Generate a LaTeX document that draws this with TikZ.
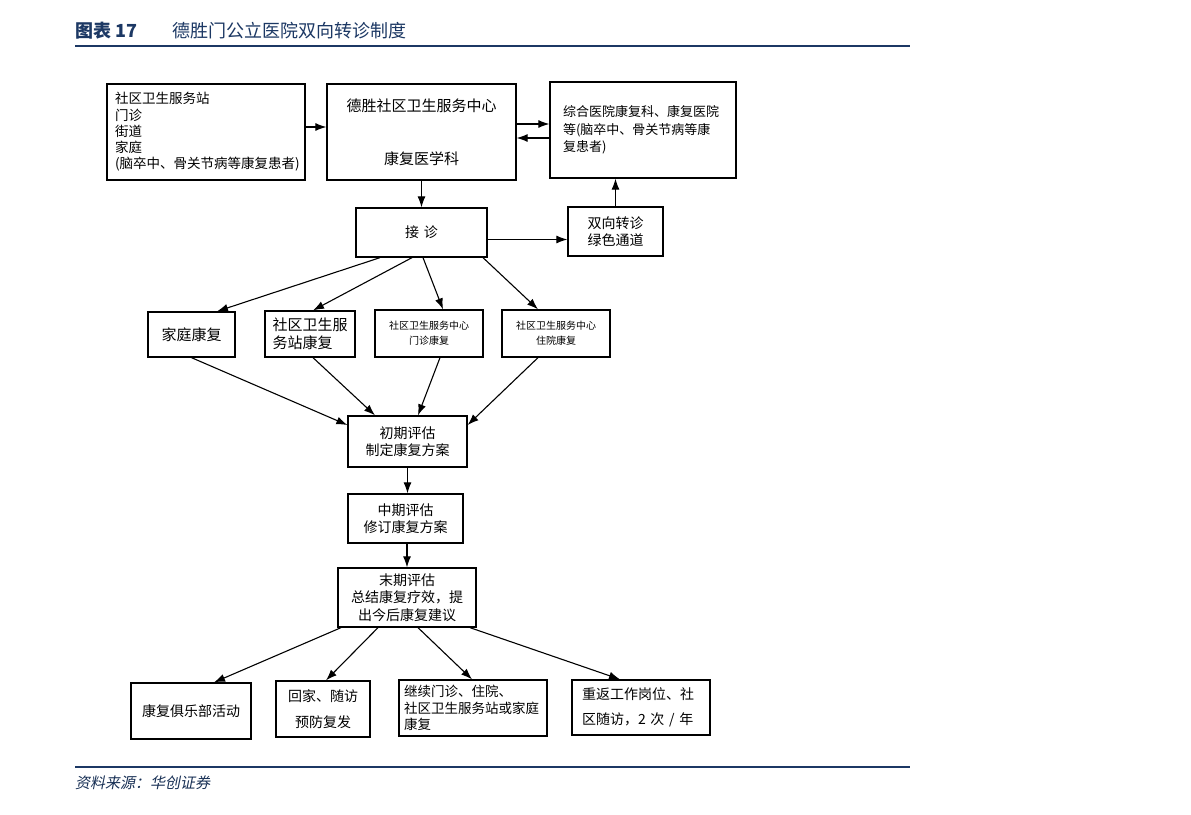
\documentclass[tikz,border=0pt]{standalone}
\usepackage{fontspec}
\setmainfont{Noto Sans CJK SC}
\newfontfamily\cjkslant[FakeSlant=0.2]{Noto Sans CJK SC}
\usetikzlibrary{arrows.meta}
\definecolor{navy}{RGB}{28,56,100}
\tikzset{
  box/.style={draw, line width=1.3pt, inner sep=0pt},
  arr/.style={line width=1.1pt, -{Latex[length=11pt,width=8pt]}},
  f13/.style={font=\fontsize{13.5}{16.3}\selectfont},
  f14/.style={font=\fontsize{14}{17.5}\selectfont},
  f15/.style={font=\fontsize{15}{18}\selectfont},
  f10/.style={font=\fontsize{10}{15}\selectfont},
}
\begin{document}
\begin{tikzpicture}[x=1pt,y=-1pt]
\useasboundingbox (0,0) rectangle (1191,814);
\fill[white] (0,0) rectangle (1191,814);
% title
\node[anchor=west, inner sep=0, text=navy, font=\fontsize{18}{20}\selectfont\bfseries] (ttl) at (75,31) {图表 17};
\node[anchor=west, inner sep=0, text=navy, font=\fontsize{18}{20}\selectfont] (ttl2) at (172,31) {德胜门公立医院双向转诊制度};
\draw[navy, line width=2.4pt] (75,46) -- (910,46);
\draw[navy, line width=2.4pt] (75,767) -- (910,767);
\node[anchor=west, inner sep=0, text=navy!85!black, font=\fontsize{15}{17}\cjkslant] (src) at (75,783) {资料来源：华创证券};

% top row
\node[box, minimum width=198, minimum height=96, f13, align=left, text width=182] (A) at (206,132)
  {社区卫生服务站\\门诊\\街道\\家庭\\(脑卒中、骨关节病等康复患者)};
\node[box, minimum width=189, minimum height=96, f15, align=center] (B) at (421.5,132)
  {德胜社区卫生服务中心\\[35pt]康复医学科};
\node[box, minimum width=186, minimum height=96, align=left, text width=160, font=\fontsize{13}{17.5}\selectfont] (C) at (643,130)
  {综合医院康复科、康复医院\\等(脑卒中、骨关节病等康\\复患者)};

\node[box, minimum width=131, minimum height=49, f14] (J) at (421.5,232.5) {接\,\,诊};
\node[box, minimum width=95, minimum height=49, f14, align=center] (G) at (615.5,231.5) {双向转诊\\绿色通道};

% row 2
\node[box, minimum width=87, minimum height=45, f15] (R1) at (191.5,334.5) {家庭康复};
\node[box, minimum width=90, minimum height=46, f15, align=left] (R2) at (310,334) {社区卫生服\\务站康复};
\node[box, minimum width=108, minimum height=47, f10, align=center] (R3) at (429,333.5) {社区卫生服务中心\\门诊康复};
\node[box, minimum width=108, minimum height=47, f10, align=center] (R4) at (556,333.5) {社区卫生服务中心\\住院康复};

% evaluation chain
\node[box, minimum width=119, minimum height=51, f14, align=center] (P1) at (407.5,441.5) {初期评估\\制定康复方案};
\node[box, minimum width=115, minimum height=49, f14, align=center] (P2) at (405.5,518.5) {中期评估\\修订康复方案};
\node[box, minimum width=138, minimum height=59, f14, align=center] (P3) at (407,597.5) {末期评估\\总结康复疗效，提\\出今后康复建议};

% bottom row
\node[box, minimum width=120, minimum height=56, f14] (S1) at (191,711) {康复俱乐部活动};
\node[box, minimum width=94, minimum height=56, f14, align=center] (S2) at (323,709) {回家、随访\\[8pt]预防复发};
\node[box, minimum width=148, minimum height=56, align=left, text width=138, font=\fontsize{13.5}{16.5}\selectfont] (S3) at (473,708) {继续门诊、住院、\\社区卫生服务站或家庭\\康复};
\node[box, minimum width=138, minimum height=55, f14, align=left, text width=118] (S4) at (641,707.5) {重返工作岗位、社\\[8pt]区随访，2 次 / 年};

% connectors top
\draw[arr] ([yshift=5]A.east) -- ([yshift=5]B.west);
\draw[arr] ([yshift=8]B.east) -- ([yshift=8]B.east -| C.west);
\draw[arr] ([yshift=-6]B.east -| C.west) -- ([yshift=-6]B.east);
\draw[arr] (B.south) -- (J.north);
\draw[arr] ([yshift=-7]J.east) -- ([yshift=-7]J.east -| G.west);
\draw[arr] (G.north) -- (G.north |- C.south);

% J to row 2
\draw[arr] ([xshift=-41.5]J.south) -- ([xshift=25.5]R1.north);
\draw[arr] ([xshift=-9.5]J.south) -- ([xshift=3]R2.north);
\draw[arr] ([xshift=1.5]J.south) -- ([xshift=14]R3.north);
\draw[arr] ([xshift=61.5]J.south) -- ([xshift=-18]R4.north);

% row 2 to P1
\draw[arr] (R1.south) -- ([yshift=16.5]P1.west);
\draw[arr] ([xshift=3]R2.south) -- ([xshift=-32.5]P1.north);
\draw[arr] ([xshift=11]R3.south) -- ([xshift=10.5]P1.north);
\draw[arr] ([xshift=-18]R4.south) -- ([yshift=16.5]P1.east);

% chain
\draw[arr] (P1.south) -- (P1.south |- P2.north);
\draw[arr] (P3.north |- P2.south) -- (P3.north);

% P3 to bottom row
\draw[arr] ([xshift=-66]P3.south) -- ([xshift=23]S1.north);
\draw[arr] ([xshift=-29]P3.south) -- ([xshift=3]S2.north);
\draw[arr] ([xshift=11]P3.south) -- ([xshift=-1]S3.north);
\draw[arr] ([xshift=63]P3.south) -- ([xshift=-21]S4.north);
\end{tikzpicture}
\end{document}
